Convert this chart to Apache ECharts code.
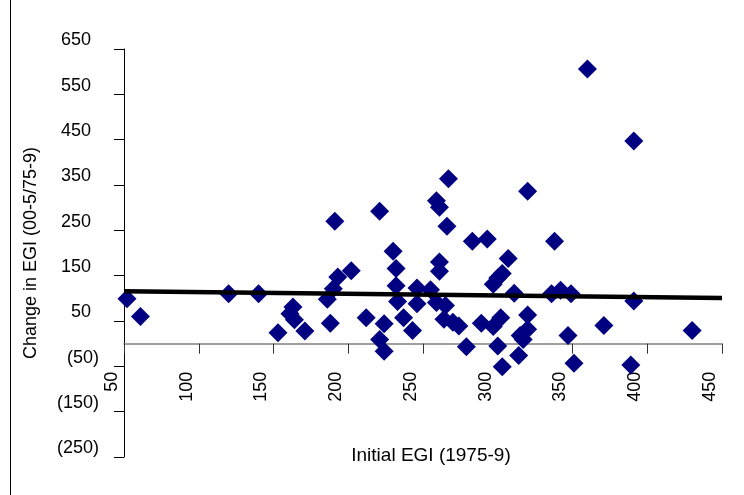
<!DOCTYPE html>
<html>
<head>
<meta charset="utf-8">
<script src="https://cdn.jsdelivr.net/npm/echarts@6/dist/echarts.min.js"></script>
<style>
  html, body { margin: 0; padding: 0; background: #fff; }
  #chart { width: 744px; height: 495px; }
</style>
</head>
<body>
<div id="chart"></div>
<script>
// initial EGI (1975-9) and change in EGI (00-5/75-9)
const initialEgi = [52, 61, 120, 140, 153, 163, 161, 164, 171, 186, 188, 190, 193, 191, 202, 212, 221, 224, 221, 224,
  230, 232, 232, 233, 237, 243, 246, 246, 255, 259, 261, 267, 266, 261, 261, 259, 265, 264, 270, 274,
  279, 283, 293, 289, 297, 302, 300, 303, 297, 300, 303, 307, 311, 320, 320, 320, 315, 317, 314, 338,
  336, 342, 349, 347, 351, 360, 371, 391, 391, 389, 430]
const changeEgi = [99, 60, 110, 110, 24, 81, 66, 53, 28, 98, 45, 121, 147, 270, 161, 57, 292, 44, 9, -17,
  204, 166, 128, 93, 57, 29, 123, 88, 119, 315, 301, 364, 259, 180, 160, 91, 84, 54, 47, 39,
  -7, 226, 231, 45, 38, 57, -5, -51, 131, 145, 155, 188, 111, 336, 63, 32, 18, 9, -26, 226,
  110, 118, 110, 18, -43, 606, 40, 447, 94, -47, 29]

// linear trend line end points
const trendX = [50, 450]
const trendY = [115.5, 101]

const xTicks = [50, 100, 150, 200, 250, 300, 350, 400, 450]
const yTicks = [-250, -150, -50, 50, 150, 250, 350, 450, 550, 650]

const font = '"Liberation Sans", Arial, sans-serif'

const gridTop = 49
const gridBottom = 38
// the x axis crosses at y = 0, so lift it from the grid bottom to that height
const plotHeight = 495 - gridTop - gridBottom
const zeroLift = plotHeight * (0 - yTicks[0]) / (yTicks[yTicks.length - 1] - yTicks[0])

const labelText = { color: '#000', fontSize: 18, fontFamily: font, lineHeight: 17 }

const chart = echarts.init(document.getElementById('chart'))

chart.setOption({
  animation: false,
  backgroundColor: '#fff',
  graphic: [
    {
      type: 'line',
      shape: { x1: 10.5, y1: 0, x2: 10.5, y2: 495 },
      style: { stroke: '#000', lineWidth: 1 }
    }
  ],
  grid: {
    left: 124,
    right: 22,
    top: gridTop,
    bottom: gridBottom,
    outerBoundsMode: 'none'
  },
  xAxis: {
    type: 'value',
    min: xTicks[0],
    max: xTicks[xTicks.length - 1],
    interval: xTicks[1] - xTicks[0],
    offset: -zeroLift,
    name: 'Initial EGI (1975-9)',
    nameLocation: 'middle',
    nameGap: 103,
    nameTextStyle: {
      color: '#000',
      fontSize: 19,
      fontFamily: font,
      padding: [0, 0, 0, 16]
    },
    axisLine: {
      onZero: false,
      lineStyle: { color: '#808080', width: 1.5 }
    },
    axisTick: {
      length: 10,
      lineStyle: { color: '#333' }
    },
    axisLabel: {
      rotate: 90,
      margin: 28,
      color: '#000',
      fontSize: 18,
      fontFamily: font,
      verticalAlign: 'bottom',
      lineHeight: 24
    },
    splitLine: { show: false }
  },
  yAxis: {
    type: 'value',
    min: yTicks[0],
    max: yTicks[yTicks.length - 1],
    interval: yTicks[1] - yTicks[0],
    name: 'Change in EGI (00-5/75-9)',
    nameLocation: 'middle',
    nameRotate: 90,
    nameGap: 84,
    nameTextStyle: {
      color: '#000',
      fontSize: 18,
      fontFamily: font
    },
    axisLine: {
      show: true,
      onZero: false,
      lineStyle: { color: '#000' }
    },
    axisTick: {
      show: true,
      length: 10,
      lineStyle: { color: '#000' }
    },
    axisLabel: {
      margin: 25,
      color: '#000',
      fontSize: 18,
      fontFamily: font,
      verticalAlign: 'bottom',
      lineHeight: 17,
      // accounting style: negatives in brackets, positives padded to line up
      formatter: (v) => (v < 0 ? '{neg|(' + Math.abs(v) + ')}' : '{pos|' + v + '}'),
      rich: {
        neg: labelText,
        pos: Object.assign({ padding: [0, 8, 0, 0] }, labelText)
      }
    },
    splitLine: { show: false }
  },
  series: [
    {
      name: 'EGI',
      type: 'scatter',
      symbol: 'diamond',
      symbolSize: 19,
      data: initialEgi.map((x, i) => [x, changeEgi[i]]),
      itemStyle: {
        color: '#000080',
        opacity: 1
      }
    },
    {
      name: 'Trend',
      type: 'line',
      z: 5,
      symbol: 'none',
      data: trendX.map((x, i) => [x, trendY[i]]),
      lineStyle: {
        color: '#000',
        width: 4.5
      }
    }
  ]
})
</script>
</body>
</html>
